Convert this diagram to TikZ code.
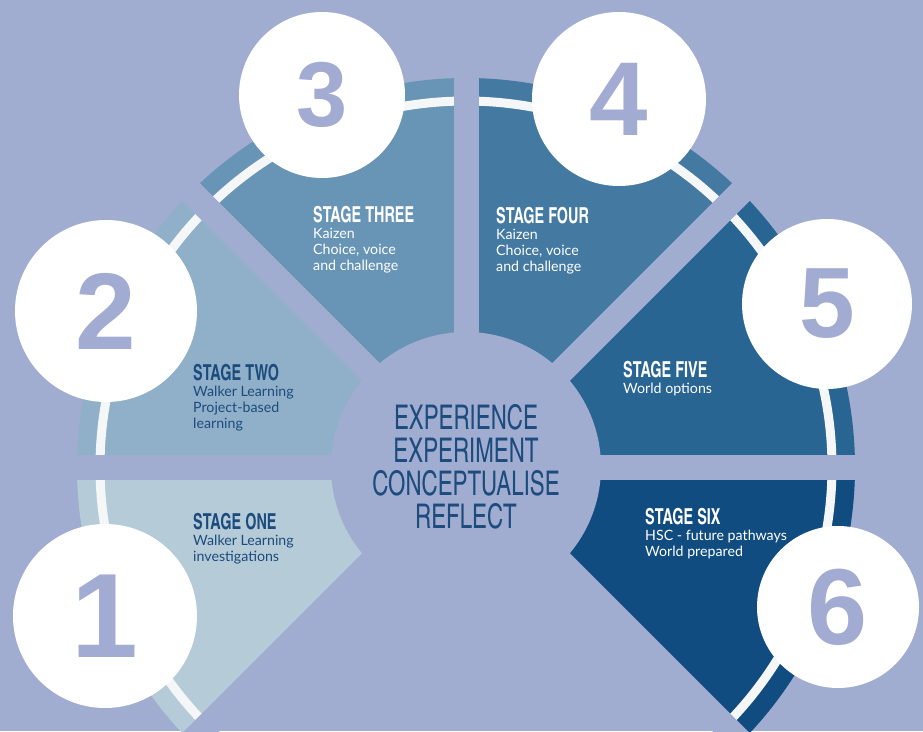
\documentclass[tikz,border=0pt]{standalone}
\usepackage{fontspec}
\usepackage{tikz}
\usetikzlibrary{positioning}

\newfontfamily\condfont{texgyreheroscn}[Extension=.otf, UprightFont=*-regular, BoldFont=*-bold, FakeStretch=0.8]
\newfontfamily\latofont{Lato}
\newfontfamily\numfont{Liberation Sans}

\definecolor{bgblue}{HTML}{A1ADD0}
\definecolor{numblue}{HTML}{A2ABD1}
\definecolor{textblue}{HTML}{1C4B7D}
\definecolor{stageone}{HTML}{B5CBD8}
\definecolor{stagetwo}{HTML}{8FB0C8}
\definecolor{stagethree}{HTML}{6895B6}
\definecolor{stagefour}{HTML}{447AA2}
\definecolor{stagefive}{HTML}{296592}
\definecolor{stagesix}{HTML}{104C7F}
\definecolor{ringwhite}{HTML}{F4F6F8}

\begin{document}
\begin{tikzpicture}[x=1pt, y=1pt,
stagetitle/.style={inner sep=0pt, anchor=north west, font=\condfont\bfseries\fontsize{22}{22}\selectfont},
stagetext/.style={inner sep=0pt, align=left, font=\latofont\fontsize{14.2}{16}\selectfont},
numcircle/.style={circle, fill=white, text=numblue, inner sep=0pt, font=\numfont\bfseries},
]
\useasboundingbox (-466,-264) rectangle (457,467);
\clip (-466,-264) rectangle (457,467);
\fill[bgblue] (-466,-264) rectangle (457,467);

% six sectors of the fan, 45 degrees each
\foreach \col [count=\i from 0] in {stageone,stagetwo,stagethree,stagefour,stagefive,stagesix}
  \fill[\col] (0,0) -- ({225-45*\i}:389) arc[start angle={225-45*\i}, delta angle=-45, radius=389] -- cycle;
\draw[ringwhite, line width=9] (225:366) arc[start angle=225, end angle=-45, radius=366];

% gaps between sectors and the hub
\foreach \a in {-45,0,45,90,135,180,225}
  \draw[bgblue, line width=25] (0,0) -- (\a:420);
\fill[bgblue] (0,0) circle[radius=135];

\node[textblue, align=center, font=\condfont\fontsize{34}{33}\selectfont] (hub) at (0,0)
  {EXPERIENCE\\EXPERIMENT\\CONCEPTUALISE\\REFLECT};

% stage one
\node[stagetitle, text=textblue] (onetitle) at (-273,-46) {STAGE ONE};
\node[stagetext, text=textblue, below right=5pt and 0pt of onetitle.south west] (onetext) {Walker Learning\\investigations};
% stage two
\node[stagetitle, text=textblue] (twotitle) at (-273,103) {STAGE TWO};
\node[stagetext, text=textblue, below right=5pt and 0pt of twotitle.south west] (twotext) {Walker Learning\\Project-based\\learning};
% stage three
\node[stagetitle, text=white] (threetitle) at (-153,261) {STAGE THREE};
\node[stagetext, text=white, below right=5pt and 0pt of threetitle.south west] (threetext) {Kaizen\\Choice, voice\\and challenge};
% stage four
\node[stagetitle, text=white] (fourtitle) at (30,260) {STAGE FOUR};
\node[stagetext, text=white, below right=5pt and 0pt of fourtitle.south west] (fourtext) {Kaizen\\Choice, voice\\and challenge};
% stage five
\node[stagetitle, text=white] (fivetitle) at (157,106) {STAGE FIVE};
\node[stagetext, text=white, below right=5pt and 0pt of fivetitle.south west] (fivetext) {World options};
% stage six
\node[stagetitle, text=white] (sixtitle) at (179,-41) {STAGE SIX};
\node[stagetext, text=white, below right=5pt and 0pt of sixtitle.south west] (sixtext) {HSC - future pathways\\World prepared};

% numbered discs round the rim
\foreach \n/\x/\y/\d/\s in {1/-361/-149/184/120, 2/-360/156/182/109, 3/-144/372/166/92,
                            4/153/368/174/105, 5/361/163/170/100, 6/372/-140/162/108}
  \node[numcircle, minimum size=\d] (num\n) at (\x,\y) {\fontsize{\s}{\s}\selectfont\n};
\end{tikzpicture}
\end{document}
